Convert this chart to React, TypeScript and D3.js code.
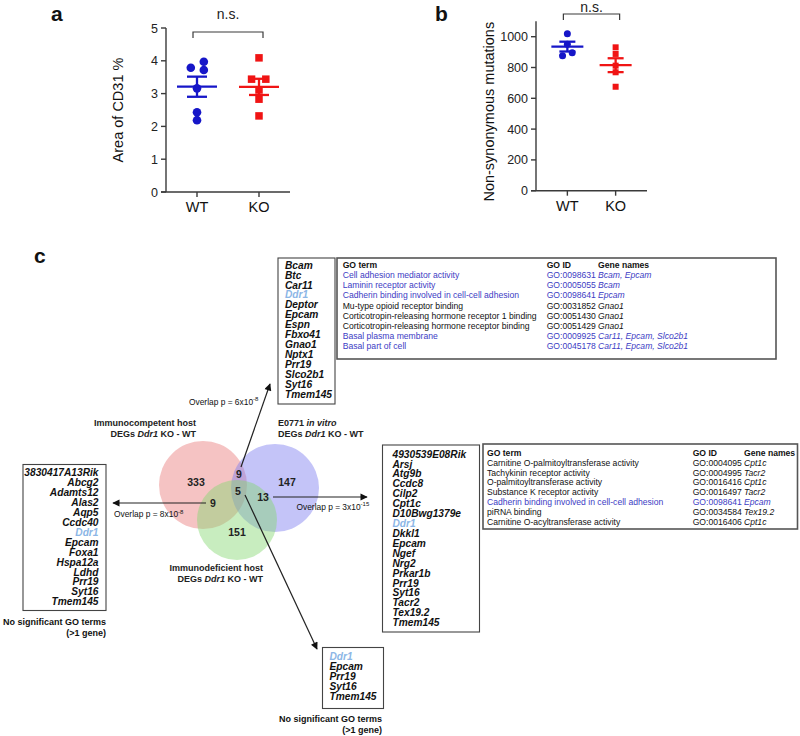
import React from "react";
import * as d3 from "d3";

// ---------------- DATA ----------------
const groups = ["WT", "KO"];
const cd31WT = [3.79, 3.97, 3.72, 3.16, 2.43, 2.19];
const cd31KO = [4.09, 3.44, 3.44, 3.11, 2.83, 2.32];
const cd31JitterWT = [-0.1, 0.11, 0.11, 0, 0, 0];
const cd31JitterKO = [0, -0.12, 0.11, 0, 0, 0];
const cd31Ticks = [0, 1, 2, 3, 4, 5];

const mutWT = [1019, 951, 877, 896];
const mutKO = [931, 888, 812, 769, 675];
const mutJitterWT = [0, 0, -0.1, 0.1];
const mutJitterKO = [0, 0, 0, 0, 0];
const mutTicks = [0, 200, 400, 600, 800, 1000];

const vennRegions = ["A", "B", "C", "AB", "AC", "BC", "ABC"];
const vennCounts = [333, 147, 151, 9, 9, 13, 5];

const genesTop = ["Bcam", "Btc", "Car11", "Ddr1", "Deptor", "Epcam", "Espn", "Fbxo41", "Gnao1", "Nptx1", "Prr19", "Slco2b1", "Syt16", "Tmem145"];
const genesLeft = ["3830417A13Rik", "Abcg2", "Adamts12", "Alas2", "Aqp5", "Ccdc40", "Ddr1", "Epcam", "Foxa1", "Hspa12a", "Ldhd", "Prr19", "Syt16", "Tmem145"];
const genesRight = ["4930539E08Rik", "Arsj", "Atg9b", "Ccdc8", "Cilp2", "Cpt1c", "D10Bwg1379e", "Ddr1", "Dkkl1", "Epcam", "Ngef", "Nrg2", "Prkar1b", "Prr19", "Syt16", "Tacr2", "Tex19.2", "Tmem145"];
const genesBottom = ["Ddr1", "Epcam", "Prr19", "Syt16", "Tmem145"];

const goTopTerms = ["Cell adhesion mediator activity", "Laminin receptor activity", "Cadherin binding involved in cell-cell adhesion", "Mu-type opioid receptor binding", "Corticotropin-releasing hormone receptor 1 binding", "Corticotropin-releasing hormone receptor binding", "Basal plasma membrane", "Basal part of cell"];
const goTopIds = ["GO:0098631", "GO:0005055", "GO:0098641", "GO:0031852", "GO:0051430", "GO:0051429", "GO:0009925", "GO:0045178"];
const goTopGenes = ["Bcam, Epcam", "Bcam", "Epcam", "Gnao1", "Gnao1", "Gnao1", "Car11, Epcam, Slco2b1", "Car11, Epcam, Slco2b1"];
const goTopHighlight = [true, true, true, false, false, false, true, true];

const goBotTerms = ["Carnitine O-palmitoyltransferase activity", "Tachykinin receptor activity", "O-palmitoyltransferase activity", "Substance K receptor activity", "Cadherin binding involved in cell-cell adhesion", "piRNA binding", "Carnitine O-acyltransferase activity"];
const goBotIds = ["GO:0004095", "GO:0004995", "GO:0016416", "GO:0016497", "GO:0098641", "GO:0034584", "GO:0016406"];
const goBotGenes = ["Cpt1c", "Tacr2", "Cpt1c", "Tacr2", "Epcam", "Tex19.2", "Cpt1c"];
const goBotHighlight = [false, false, false, false, true, false, false];

const highlightGene = "Ddr1";

// ---------------- STYLE ----------------
const FONT = "'Liberation Sans', Arial, Helvetica, sans-serif";
const BLUE = "#1616c8";
const RED = "#f01414";
const AXIS = "#3a3a3a";
const GO_BLUE = "#3c3cc4";
const DDR1 = "#8cb6e6";

function stats(v: number[]) {
  const m = d3.mean(v) as number;
  const s = (d3.deviation(v) as number) / Math.sqrt(v.length);
  return { m, s };
}

function DotPanel(props: any) {
  const { x0, x1, yTop, yBottom, domain, ticks, wt, ko, jWT, jKO, pad, label, ylabel, ylabelX, letter, letterX, ns, r, sq, meanW, capW, bracketY } = props;
  const x = d3.scalePoint<string>().domain(groups).range([x0, x1]).padding(pad);
  const y = d3.scaleLinear().domain([0, ticks[ticks.length - 1]]).range([yBottom, yTop]);
  const yAxisTop = y(domain);
  const sw = stats(wt);
  const sk = stats(ko);
  const xw = x("WT") as number;
  const xk = x("KO") as number;
  const step = x.step();
  return (
    <g fontFamily={FONT}>
      <text x={letterX} y={21} fontSize={21} fontWeight="bold" fill="#111">{letter}</text>
      <line x1={x0} x2={x0} y1={yAxisTop} y2={yBottom} stroke={AXIS} strokeWidth={1.4} />
      <line x1={x0 - 5} x2={x1} y1={yBottom} y2={yBottom} stroke={AXIS} strokeWidth={1.4} />
      {ticks.map((t: number) => (
        <g key={t}>
          <line x1={x0 - 5} x2={x0} y1={y(t)} y2={y(t)} stroke={AXIS} strokeWidth={1.4} />
          <text x={x0 - 8} y={y(t) + 4.5} fontSize={12.5} textAnchor="end" fill="#222">{t}</text>
        </g>
      ))}
      {groups.map((g) => (
        <g key={g}>
          <line x1={x(g)} x2={x(g)} y1={yBottom} y2={yBottom + 5} stroke={AXIS} strokeWidth={1.4} />
          <text x={x(g)} y={yBottom + 20} fontSize={14.5} textAnchor="middle" fill="#111">{g}</text>
        </g>
      ))}
      <text transform={`translate(${ylabelX},${(yTop + yBottom) / 2 + label}) rotate(-90)`} fontSize={14.5} textAnchor="middle" fill="#111">{ylabel}</text>
      <path d={`M${xw - 4},${bracketY + 6} V${bracketY} H${xk + 4} V${bracketY + 6}`} fill="none" stroke={AXIS} strokeWidth={1.2} />
      <text x={(xw + xk) / 2} y={ns} fontSize={14} textAnchor="middle" fill="#222">n.s.</text>
      {wt.map((v: number, i: number) => (
        <circle key={"w" + i} cx={xw + jWT[i] * step} cy={y(v)} r={r} fill={BLUE} />
      ))}
      {ko.map((v: number, i: number) => (
        <rect key={"k" + i} x={xk + jKO[i] * step - sq / 2} y={y(v) - sq / 2} width={sq} height={sq} fill={RED} />
      ))}
      {[{ s: sw, cx: xw, c: BLUE }, { s: sk, cx: xk, c: RED }].map((o, i) => (
        <g key={i} stroke={o.c} strokeWidth={2.3}>
          <line x1={o.cx - meanW / 2} x2={o.cx + meanW / 2} y1={y(o.s.m)} y2={y(o.s.m)} />
          <line x1={o.cx} x2={o.cx} y1={y(o.s.m + o.s.s)} y2={y(o.s.m - o.s.s)} />
          <line x1={o.cx - capW / 2} x2={o.cx + capW / 2} y1={y(o.s.m + o.s.s)} y2={y(o.s.m + o.s.s)} />
          <line x1={o.cx - capW / 2} x2={o.cx + capW / 2} y1={y(o.s.m - o.s.s)} y2={y(o.s.m - o.s.s)} />
        </g>
      ))}
    </g>
  );
}

function GeneList(props: any) {
  const { genes, x, y0, dy, anchor } = props;
  return (
    <g fontFamily={FONT} fontSize={10.2} fontWeight="bold" fontStyle="italic">
      {genes.map((g: string, i: number) => (
        <text key={g + i} x={x} y={y0 + i * dy + 3.6} textAnchor={anchor || "start"} fill={g === highlightGene ? DDR1 : "#111"}>{g}</text>
      ))}
    </g>
  );
}

function GoTable(props: any) {
  const { terms, ids, genes, hl, cx, y0, dy } = props;
  return (
    <g fontFamily={FONT} fontSize={8.6}>
      <text x={cx[0]} y={y0 + 3} fontWeight="bold" fill="#111">GO term</text>
      <text x={cx[1]} y={y0 + 3} fontWeight="bold" fill="#111">GO ID</text>
      <text x={cx[2]} y={y0 + 3} fontWeight="bold" fill="#111">Gene names</text>
      {terms.map((t: string, i: number) => {
        const c = hl[i] ? GO_BLUE : "#111";
        const yy = y0 + (i + 1) * dy + 3;
        return (
          <g key={i} fill={c}>
            <text x={cx[0]} y={yy}>{t}</text>
            <text x={cx[1]} y={yy}>{ids[i]}</text>
            <text x={cx[2]} y={yy} fontStyle="italic">{genes[i]}</text>
          </g>
        );
      })}
    </g>
  );
}

function Overlap(props: any) {
  const { x, y, base, exp } = props;
  return (
    <text x={x} y={y} fontFamily={FONT} fontSize={8.4} fill="#111">
      Overlap p = {base}x10<tspan dy={-3.5} fontSize={6}>{exp}</tspan>
    </text>
  );
}

function Venn() {
  const circles = [
    { id: "A", cx: 203, cy: 485, r: 44, fill: "#e97a7a" },
    { id: "B", cx: 275, cy: 488, r: 44, fill: "#7d7def" },
    { id: "C", cx: 237, cy: 520, r: 40, fill: "#84d872" },
  ];
  const labelPos: Record<string, [number, number]> = {
    A: [196, 482], B: [287, 482], C: [237, 532], AB: [239, 474], AC: [213, 503], BC: [263, 497], ABC: [238, 491],
  };
  return (
    <g fontFamily={FONT}>
      {circles.map((c) => (
        <circle key={c.id} cx={c.cx} cy={c.cy} r={c.r} fill={c.fill} fillOpacity={0.45} />
      ))}
      {vennRegions.map((rg, i) => (
        <text key={rg} x={labelPos[rg][0]} y={labelPos[rg][1] + 3.7} fontSize={10.5} fontWeight="bold" textAnchor="middle" fill="#222">{vennCounts[i]}</text>
      ))}
      <g fontSize={9} fontWeight="bold" fill="#222">
        <text x={196} y={426} textAnchor="end">Immunocompetent host</text>
        <text x={196} y={436.5} textAnchor="end">DEGs <tspan fontStyle="italic">Ddr1</tspan> KO - WT</text>
        <text x={278} y={425.5}>E0771 <tspan fontStyle="italic">in vitro</tspan></text>
        <text x={278} y={436.5}>DEGs <tspan fontStyle="italic">Ddr1</tspan> KO - WT</text>
        <text x={263} y={570.5} textAnchor="end">Immunodeficient host</text>
        <text x={263} y={581.5} textAnchor="end">DEGs <tspan fontStyle="italic">Ddr1</tspan> KO - WT</text>
      </g>
    </g>
  );
}

export default function App() {
  return (
    <svg width={800} height={736} style={{ position: "absolute", left: 0, top: 0, background: "#fff" }}>
      <defs>
        <marker id="ah" viewBox="0 0 10 10" refX="9" refY="5" markerWidth="7" markerHeight="6" orient="auto">
          <path d="M0,0 L10,5 L0,10 z" fill="#111" />
        </marker>
      </defs>
      <rect width={800} height={736} fill="#fff" />

      <DotPanel x0={166} x1={290} yTop={28} yBottom={192} domain={5} ticks={cd31Ticks} wt={cd31WT} ko={cd31KO}
        jWT={cd31JitterWT} jKO={cd31JitterKO} pad={0.5} label={0} ylabel="Area of CD31 %" ylabelX={123}
        letter="a" letterX={51} ns={19} r={4.3} sq={7.5} meanW={40} capW={20} bracketY={32} />
      <DotPanel x0={536} x1={647} yTop={36.7} yBottom={190.7} domain={1100} ticks={mutTicks} wt={mutWT} ko={mutKO}
        jWT={mutJitterWT} jKO={mutJitterKO} pad={0.65} label={-2} ylabel="Non-synonymous mutations" ylabelX={494}
        letter="b" letterX={435} ns={11.5} r={3.5} sq={6} meanW={32} capW={16} bracketY={14} />

      <text x={34} y={263} fontFamily={FONT} fontSize={21} fontWeight="bold" fill="#111">c</text>

      <g fill="none" stroke="#444" strokeWidth={1.1}>
        <rect x={278} y={258} width={57} height={146} />
        <rect x={23} y={464.5} width={83} height={146} />
        <rect x={382.5} y={445} width={97} height={187} />
        <rect x={322.5} y={647.5} width={61} height={61} />
      </g>
      <g fill="none" stroke="#555" strokeWidth={1.6}>
        <rect x={337} y={258} width={439} height={101} />
        <rect x={483} y={444} width={314.5} height={85} />
      </g>

      <GeneList genes={genesTop} x={285} y0={265} dy={9.95} />
      <GeneList genes={genesLeft} x={98.5} y0={472.7} dy={9.92} anchor="end" />
      <GeneList genes={genesRight} x={392.5} y0={454} dy={9.92} />
      <GeneList genes={genesBottom} x={329.5} y0={656.7} dy={9.85} />

      <GoTable terms={goTopTerms} ids={goTopIds} genes={goTopGenes} hl={goTopHighlight} cx={[342.7, 546.7, 598]} y0={265} dy={10.15} />
      <GoTable terms={goBotTerms} ids={goBotIds} genes={goBotGenes} hl={goBotHighlight} cx={[487, 692.7, 744]} y0={452.7} dy={9.9} />

      <g fontFamily={FONT} fontSize={9} fontWeight="bold" fill="#111" textAnchor="end">
        <text x={106} y={624.5}>No significant GO terms</text>
        <text x={106} y={635.5}>(&gt;1 gene)</text>
        <text x={382} y={722}>No significant GO terms</text>
        <text x={382} y={733}>(&gt;1 gene)</text>
      </g>

      <Venn />

      <g stroke="#222" strokeWidth={1.2} markerEnd="url(#ah)">
        <line x1={241} y1={467} x2={270} y2={384} />
        <line x1={206} y1={503} x2={113} y2={503} />
        <line x1={273} y1={497} x2={367} y2={497} />
        <line x1={245} y1={495} x2={317} y2={649} />
      </g>
      <Overlap x={189} y={404.5} base="6" exp="-8" />
      <Overlap x={114} y={517} base="8" exp="-8" />
      <Overlap x={296.5} y={509.5} base="3" exp="-15" />
    </svg>
  );
}
